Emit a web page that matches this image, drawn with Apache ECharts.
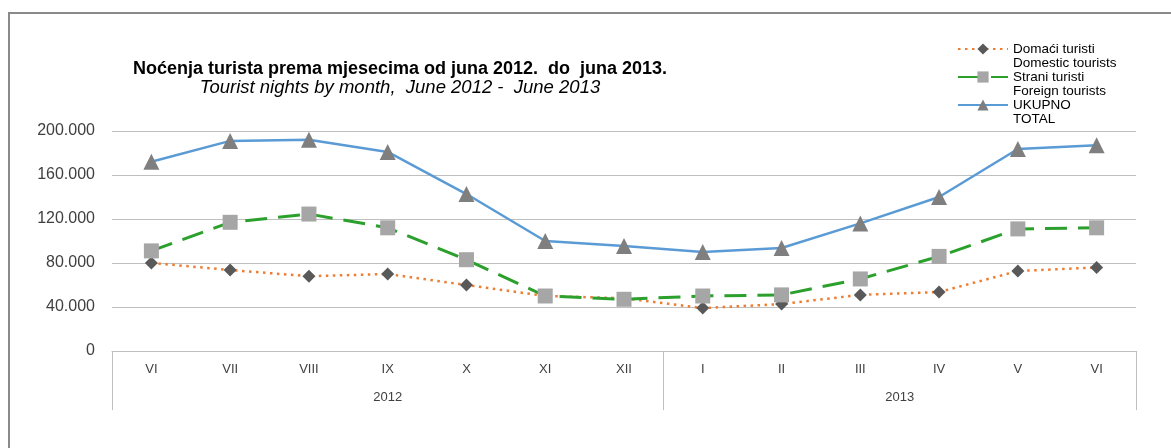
<!DOCTYPE html>
<html>
<head>
<meta charset="utf-8">
<script src="https://cdn.jsdelivr.net/npm/echarts@6/dist/echarts.min.js"></script>
<style>
html,body{margin:0;padding:0;background:#fff;}
#chart{width:1171px;height:448px;}
</style>
</head>
<body>
<div id="chart"></div>
<script>
const months = ['VI','VII','VIII','IX','X','XI','XII','I','II','III','IV','V','VI'];
const years = ['2012','2013'];
const yearStartIdx = [0, 7]; // index of first month of each year group
const domestic = [80000, 73600, 68000, 70000, 60000, 50000, 48000, 39000, 42700, 51000, 53600, 72700, 76000];
const foreign = [91000, 117000, 124500, 112000, 83000, 50000, 47000, 50000, 51000, 65500, 86000, 111000, 112000];
const total = [172000, 191000, 192000, 181000, 142700, 100000, 95500, 90000, 93600, 116000, 140000, 183600, 187000];
const seriesNames = ['Domaći turisti\nDomestic tourists', 'Strani turisti\nForeign tourists', 'UKUPNO\nTOTAL'];
const yTicks = [0, 40000, 80000, 120000, 160000, 200000];

const n = months.length;
const yearBounds = yearStartIdx.concat([n]);
const yearCenters = years.map((y, i) => (yearBounds[i] + yearBounds[i + 1]) / 2);

function fmt(v) {
  if (v === 0) return '0';
  const s = String(Math.round(v));
  return s.replace(/\B(?=(\d{3})+(?!\d))/g, '.');
}

const font = '"Liberation Sans", Arial, sans-serif';
const chart = echarts.init(document.getElementById('chart'));
chart.setOption({
  animation: false,
  backgroundColor: '#ffffff',
  graphic: [{
    type: 'rect', silent: true, z: -1,
    shape: { x: 9, y: 13, width: 1400, height: 800 },
    style: { fill: 'none', stroke: '#8a8a8a', lineWidth: 2 }
  }],
  title: {
    text: 'Noćenja turista prema mjesecima od juna 2012.  do  juna 2013.',
    subtext: 'Tourist nights by month,  June 2012 -  June 2013',
    left: 400, top: 59, textAlign: 'center', itemGap: -1, padding: 0,
    textStyle: { fontFamily: font, fontSize: 18, lineHeight: 20, fontWeight: 'bold', color: '#000' },
    subtextStyle: { fontFamily: font, fontSize: 18.5, lineHeight: 20, fontStyle: 'italic', color: '#000' }
  },
  legend: {
    orient: 'vertical', left: 957, top: 28, itemGap: -14, padding: 0,
    itemWidth: 50, itemHeight: 14,
    data: seriesNames,
    formatter: (name) => '\n' + name,
    textStyle: { fontFamily: font, fontSize: 13.5, color: '#000', lineHeight: 14 }
  },
  grid: { left: 112, right: 35, top: 131, bottom: 97, containLabel: false },
  xAxis: [{
    type: 'category', data: months, boundaryGap: true,
    axisLine: { show: true, lineStyle: { color: '#bfbfbf', width: 1 } },
    axisTick: { show: false },
    axisLabel: { margin: 12, fontFamily: font, fontSize: 13, color: '#404040' }
  }, {
    type: 'value', min: 0, max: n, position: 'bottom',
    axisLine: { show: false },
    splitLine: { show: false },
    axisTick: { show: true, customValues: yearBounds, length: 59, lineStyle: { color: '#bfbfbf', width: 1 } },
    axisLabel: {
      customValues: yearCenters, margin: 40,
      fontFamily: font, fontSize: 13, color: '#404040',
      formatter: (v) => { const i = yearCenters.indexOf(v); return i >= 0 ? years[i] : ''; }
    }
  }],
  yAxis: {
    type: 'value', min: yTicks[0], max: yTicks[yTicks.length - 1], interval: yTicks[1] - yTicks[0],
    axisLine: { show: false }, axisTick: { show: false },
    splitLine: { lineStyle: { color: '#bfbfbf', width: 1 } },
    axisLabel: { margin: 17, fontFamily: font, fontSize: 16, color: '#404040', formatter: fmt }
  },
  series: [{
    name: seriesNames[0], type: 'line', data: domestic, xAxisIndex: 0,
    symbol: 'diamond', symbolSize: 13,
    itemStyle: { color: '#595959' },
    lineStyle: { color: '#ED7D31', width: 2.5, type: [2.5, 4.5] }
  }, {
    name: seriesNames[1], type: 'line', data: foreign, xAxisIndex: 0,
    symbol: 'rect', symbolSize: 15,
    itemStyle: { color: '#a6a6a6' },
    lineStyle: { color: '#2ca02c', width: 3, type: [22, 11] }
  }, {
    name: seriesNames[2], type: 'line', data: total, xAxisIndex: 0,
    symbol: 'triangle', symbolSize: 16,
    itemStyle: { color: '#7f7f7f' },
    lineStyle: { color: '#5B9BD5', width: 2.5 }
  }]
});
</script>
</body>
</html>
